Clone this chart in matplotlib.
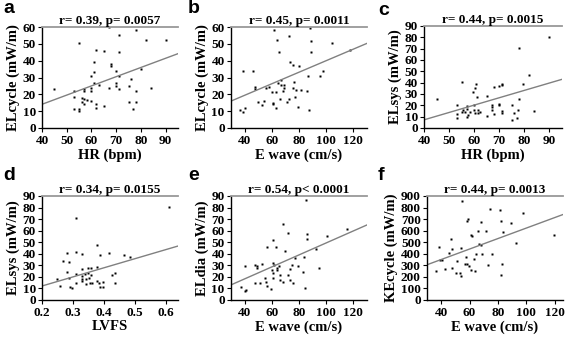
import numpy as np
import matplotlib
matplotlib.use("Agg")
import matplotlib.pyplot as plt

plt.rcParams['font.family'] = ['Liberation Serif', 'DejaVu Serif']
plt.rcParams['font.weight'] = 'bold'

# panel a: ELcycle vs HR
a_hr = [45, 53, 53, 53, 55, 55, 55, 56, 56, 57, 57, 57, 57, 58, 60, 60, 60, 60,
        61, 61, 61, 62, 62, 62, 63, 65, 65, 67, 67, 68, 68, 70, 70, 70, 71, 71,
        71, 71, 75, 75, 76, 77, 78, 78, 78, 80, 82, 84, 90]
a_el = [23.4, 22, 18.5, 11, 50.5, 11.5, 10, 18, 15.5, 23, 22, 17, 14.5, 16.5, 31, 24, 22, 16,
        39.5, 33.5, 27, 46.5, 14, 12, 25.5, 45.5, 13, 60, 24, 38, 37, 34, 26.5, 25, 55, 45,
        31, 23, 25, 15.5, 29, 11, 58, 22, 15.5, 35, 52, 23.5, 52.5]
a_fit = (0.547, -7.8)

# panel b: ELcycle vs E wave
b_ew = [36.4, 39.1, 40.2, 39.1, 45.9, 47.7, 47.7, 50.0, 52.7, 53.9, 56.1, 58.0, 60.2, 60.7,
        60.7, 61.4, 63.0, 63.4, 64.1, 64.8, 65.2, 65.7, 66.4, 67.0, 68.0, 69.1, 69.1, 70.9,
        72.5, 72.7, 73.6, 75.5, 75.9, 76.1, 77.0, 77.7, 78.9, 80.0, 81.8, 85.7, 86.8, 87.3,
        88.4, 88.6, 89.1, 95.5, 97.7, 103.9, 117.5]
b_el = [10.6, 9.7, 11.6, 34.0, 33.8, 24.4, 23.4, 15.5, 13.5, 16.1, 23.8, 24.4, 21.3, 15.1,
        14.1, 58.0, 21.3, 11.8, 52.4, 26.7, 45.1, 17.0, 25.7, 28.6, 21.9, 25.7, 23.8, 15.7,
        17.0, 54.7, 39.3, 37.3, 23.8, 27.1, 18.4, 22.8, 12.6, 36.8, 22.8, 22.2, 30.6, 10.6,
        59.6, 51.5, 45.1, 30.9, 33.8, 50.3, 46.4]
b_fit = (0.343, 5.7)

# panel c: ELsys vs HR
c_hr = [45.1, 55.0, 90.0, 77.9, 81.9, 79.6, 53.0, 53.0, 53.0, 55.0, 55.7, 57.0, 57.0, 56.4,
        57.0, 57.7, 58.4, 59.7, 60.3, 60.7, 61.0, 59.9, 59.9, 60.3, 61.7, 61.7, 62.3, 65.0,
        65.0, 67.0, 67.0, 67.0, 67.9, 67.9, 69.7, 69.7, 69.9, 71.0, 71.0, 71.0, 71.0, 75.0,
        75.0, 75.9, 77.0, 77.9, 77.6, 83.9]
c_el = [25.4, 40.7, 80.5, 70.2, 46.6, 39.2, 20.1, 12.7, 8.8, 14.2, 15.6, 19.5, 17.1, 14.2,
        9.7, 11.8, 14.2, 31.9, 35.4, 39.2, 27.4, 20.1, 15.6, 13.6, 15.6, 13.6, 14.2, 28.0,
        10.3, 20.1, 18.3, 16.2, 36.3, 12.7, 20.1, 21.5, 37.2, 39.2, 37.8, 14.7, 13.6, 20.6,
        6.8, 13.3, 9.1, 26.0, 16.2, 15.0]
c_fit = (0.65, -18.8)

# panel d: ELsys vs LVFS
d_fs = [0.611, 0.250, 0.259, 0.269, 0.280, 0.280, 0.288, 0.288, 0.290, 0.298, 0.309, 0.309,
        0.309, 0.309, 0.328, 0.328, 0.328, 0.328, 0.330, 0.338, 0.341, 0.341, 0.349, 0.349,
        0.352, 0.355, 0.359, 0.359, 0.362, 0.378, 0.378, 0.378, 0.386, 0.389, 0.389, 0.397,
        0.397, 0.416, 0.426, 0.435, 0.435, 0.466, 0.485]
d_el = [80.4, 17.9, 12.1, 33.7, 24.5, 40.9, 33.1, 19.3, 11.2, 10.1, 70.6, 41.5,
        22.8, 15.0, 40.1, 27.1, 20.7, 18.4, 16.4, 22.2, 17.9, 14.1, 28.0, 23.6,
        18.7, 15.0, 27.4, 21.6, 15.0, 47.3, 28.8, 16.4, 15.0, 38.9, 11.2, 15.9,
        11.2, 40.9, 21.3, 23.1, 15.0, 38.9, 37.2]
d_fit = (78.6, -3.6)

# panel e: ELdia vs E wave
e_ew = [37, 40.5, 41, 40.5, 47.6, 48, 49.4, 49.4, 51, 53, 55.3, 55.8, 56.5, 56.5, 59.3,
        60, 61, 61, 61.6, 61, 61, 62.8, 64, 64, 65, 66.3, 66.3, 68.2, 68.6, 69.8, 71.7,
        72.2, 73.3, 73.3, 75, 75.7, 76.8, 79.2, 82.7, 83.9, 84.3, 85.5, 85.7, 86.2, 92.8,
        94.9, 100.3, 115.5]
e_el = [11.6, 7.8, 8.7, 29, 14.5, 30, 29, 27.6, 14.5, 31, 18.9, 16, 45.9, 12.5, 9.6,
        26, 23, 51.5, 30.5, 32, 18.9, 45.6, 27.6, 26, 29, 21.8, 17.4, 16, 65.4, 42.7, 58.1,
        21.8, 27, 17.4, 30.5, 14.5, 36.3, 29, 24.1, 36.9, 10.8, 86.3, 56.7, 52.9, 44.2,
        27.6, 55.2, 61.6]
e_fit = (0.519, -2.5)

# panel f: KEcycle vs E wave
f_ew = [36, 38.5, 39.4, 40.8, 42.9, 45.3, 46.7, 47.6, 47.9, 50.2, 51.4, 53.1, 53.8, 54.2,
        54.9, 57.1, 57.8, 58.5, 58.9, 58.5, 59.4, 60.8, 61.3, 62.0, 63.2, 63.6, 64.8, 66.0,
        66.6, 67.9, 68.4, 68.8, 71.9, 73.1, 74.2, 75.9, 81.3, 82.5, 83.0, 82.5, 83.6, 89.5,
        93.1, 97.8, 119.6]
f_ke = [255, 458, 350, 350, 270, 405, 530, 275, 440, 230, 340, 235, 205, 450,
        855, 310, 375, 685, 705, 310, 290, 565, 260, 550, 355, 250, 400, 600,
        485, 480, 675, 400, 595, 305, 785, 400, 775, 680, 315, 215, 590, 670,
        495, 755, 565]
f_fit = (4.53, 169)

titles = ["r= 0.39, p= 0.0057", "r= 0.45, p= 0.0011", "r= 0.44, p= 0.0015",
          "r= 0.34, p= 0.0155", "r= 0.54, p< 0.0001", "r= 0.44, p= 0.0013"]

W, H = 565, 337
fig = plt.figure(figsize=(W / 100, H / 100), dpi=100)


def make_ax(left, right, top, bottom):
    return fig.add_axes([left / W, 1 - bottom / H, (right - left) / W, (bottom - top) / H])


def draw_panel(ax, x, y, fit, xlim, xticks, ylim, yticks, xlabel, ylabel, title, letter, lx, ly):
    ax.plot(x, y, 's', ms=2.0, color='black', mec='none')
    xs = np.array(xlim)
    ax.plot(xs, fit[0] * xs + fit[1], color='#808080', lw=1.0)
    ax.set_xlim(xlim)
    ax.set_ylim(ylim)
    ax.set_xticks(xticks)
    ax.set_yticks(yticks)
    ax.tick_params(length=3, width=0.8, pad=2, labelsize=9.5)
    ax.tick_params(axis='y', pad=1.5)
    for lab in ax.get_xticklabels() + ax.get_yticklabels():
        lab.set_fontweight('bold')
    ax.spines['right'].set_visible(False)
    ax.spines['top'].set_color('#999999')
    ax.spines['top'].set_linewidth(1.3)
    ax.spines['left'].set_linewidth(1.0)
    ax.spines['bottom'].set_linewidth(1.0)
    ax.set_xlabel(xlabel, fontsize=10.5, fontweight='bold', labelpad=1)
    ax.set_ylabel(ylabel, fontsize=10.5, fontweight='bold', labelpad=2)
    ax.set_title(title, fontsize=9.5, fontweight='bold', pad=2)
    fig.text(lx / W, 1 - ly / H, letter, fontsize=14, fontweight='bold',
             family='Liberation Sans', va='top', ha='left')


ax_a = make_ax(42, 178, 27, 128)
draw_panel(ax_a, a_hr, a_el, a_fit, (40, 95), range(40, 91, 10), (0, 60), range(0, 61, 10),
           "HR (bpm)", "ELcycle (mW/m)", titles[0], "a", 3, 0)

ax_b = make_ax(231, 367, 27, 128)
draw_panel(ax_b, b_ew, b_el, b_fit, (30, 130), range(40, 121, 20), (0, 60), range(0, 61, 10),
           "E wave (cm/s)", "ELcycle (mW/m)", titles[1], "b", 188, 0)

ax_c = make_ax(424, 562, 26, 128)
draw_panel(ax_c, c_hr, c_el, c_fit, (40, 95), range(40, 91, 10), (0, 90), range(0, 91, 10),
           "HR (bpm)", "ELsys (mW/m)", titles[2], "c", 378, 2)

ax_d = make_ax(42, 178, 196, 300)
draw_panel(ax_d, d_fs, d_el, d_fit, (0.2, 0.64), [0.2, 0.3, 0.4, 0.5, 0.6], (0, 90),
           range(0, 91, 10), "LVFS", "ELsys (mW/m)", titles[3], "d", 3, 167)

ax_e = make_ax(231, 367, 196, 300)
draw_panel(ax_e, e_ew, e_el, e_fit, (30, 130), range(40, 121, 20), (0, 90), range(0, 91, 10),
           "E wave (cm/s)", "ELdia (mW/m)", titles[4], "e", 188, 167)

ax_f = make_ax(427, 563, 196, 300)
draw_panel(ax_f, f_ew, f_ke, f_fit, (30, 126), range(40, 121, 20), (0, 900), range(0, 901, 100),
           "E wave (cm/s)", "KEcycle (mW/m)", titles[5], "f", 378, 167)

fig.savefig("out.png", dpi=100)
